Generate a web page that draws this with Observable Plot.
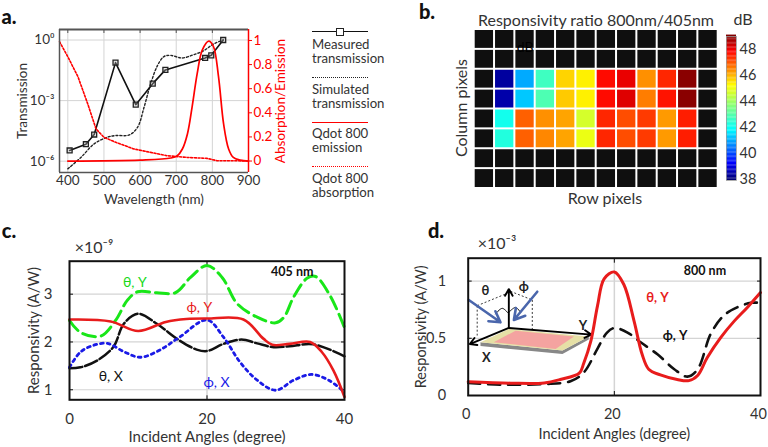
<!DOCTYPE html>
<html><head><meta charset="utf-8">
<script src="https://cdn.jsdelivr.net/npm/d3@7"></script>
<script src="https://cdn.jsdelivr.net/npm/@observablehq/plot@0.6"></script>
<style>
html,body{margin:0;padding:0;background:#fff;}
#page{position:relative;width:768px;height:447px;overflow:hidden;font-family:Lato,"Open Sans",sans-serif;color:#333;}
#page svg{position:absolute;left:0;top:0;}
.t{position:absolute;white-space:nowrap;line-height:1;transform:translate(-50%,-50%);}
.l{position:absolute;white-space:pre;line-height:14px;font-size:13.2px;}
.k{position:absolute;left:312px;width:56px;height:0;}
</style></head><body><div id="page"></div>
<script>
// ---------- Panel a ----------
const measured = [[405,-5.47],[450,-5.16],[473,-4.68],[532,-1.12],[588,-3.2],[635,-2.16],[670,-1.48],[780,-0.89],[797,-0.76],[830,0]];
const simulated = [[400,-6.38],[437,-5.8],[473,-5.14],[510,-4.81],[533,-4.73],[570,-4.7],[593,-4.32],[611,-3.33],[629,-2.18],[648,-1.27],[666,-0.82],[684,-0.76],[716,-0.89],[748,-0.73],[776,-0.53],[803,-0.2],[830,0]];
const emission = [[400,0],[600,0.008],[685,0.025],[703,0.044],[717,0.1],[731,0.225],[744,0.45],[758,0.725],[772,0.92],[790,0.995],[803,0.95],[817,0.7],[831,0.31],[845,0.1],[858,0.03],[877,0.008],[900,0]];
const absorption = [[377,0.99],[400,0.865],[428,0.7],[455,0.475],[478,0.267],[500,0.197],[533,0.155],[583,0.1],[629,0.072],[675,0.044],[730,0.03],[785,0.022],[813,0.003],[858,0.003],[900,0]];
const wavelengthTicks = [400,500,600,700,800,900];
const transmissionTicks = [1,1e-3,1e-6];
const transmissionLabels = {"1":"10⁰","0.001":"10⁻³","0.000001":"10⁻⁶"};
const ratioTicks = [0,0.2,0.4,0.6,0.8,1];

// ---------- Panel b ----------
const ratioRow3 = [null,38.3,40.9,42.6,45.6,45.3,47.7,48.0,46.3,47.4,48.9,null];
const ratioRow4 = [null,38.4,41.2,42.8,45.7,45.3,47.7,48.1,46.5,47.6,48.9,null];
const ratioRow5 = [null,42.0,46.8,46.3,46.1,44.6,47.4,47.0,47.2,46.2,47.5,null];
const ratioRow6 = [null,42.2,46.8,46.4,46.1,44.9,47.4,47.0,47.2,46.2,47.5,null];
const blankRow = Array(12).fill(null);
const ratioRows = [blankRow,blankRow,ratioRow3,ratioRow4,ratioRow5,ratioRow6,blankRow,blankRow];
const dbTicks = [38,40,42,44,46,48];
const jetStops = [38,39.2,41.75,43.5,45.15,47.8,49];
const jetColors = ["#00007f","#0000ff","#00ffff","#80ff80","#ffff00","#ff0000","#7f0000"];

// ---------- Panel c ----------
const thetaY405 = [[0,2.45],[1.6,2.2],[4.5,2.12],[6.7,2.45],[8.4,2.87],[9.9,3.05],[12.7,3.03],[15.4,3.03],[17.6,3.35],[20,3.6],[22.2,3.35],[24.4,2.8],[27.3,2.52],[30,2.4],[31.2,2.52],[32.6,2.94],[34.6,3.34],[35.8,3.37],[37.9,2.97],[40,2.3]];
const phiY405 = [[0,2.47],[6,2.43],[10,2.23],[14,2.42],[17,2.48],[20,2.49],[25.3,2.47],[28.2,2.07],[29.5,1.94],[32,1.96],[35,2.0],[36.7,1.79],[38.4,1.4],[40,0.85]];
const thetaX405 = [[0,1.45],[1.6,1.47],[4,1.61],[6.4,1.9],[7.9,2.38],[10,2.59],[12.7,2.38],[16,2.03],[18.5,1.84],[20,1.81],[22.4,1.96],[25,2.05],[27.3,1.97],[29.7,1.89],[32,1.91],[35.5,1.95],[40,1.7]];
const phiX405 = [[0,1.47],[1.6,1.79],[3.5,1.93],[5.5,1.97],[8,1.79],[10.3,1.68],[13,1.82],[16,2.1],[20,2.46],[22.4,2.1],[24.8,1.58],[27.3,1.2],[30,0.99],[32.6,1.2],[35.2,1.32],[37.7,1.2],[40,0.95]];

// ---------- Panel d ----------
const thetaY800 = [[0,0.12],[5.8,0.108],[10.4,0.11],[12.6,0.14],[15.2,0.195],[15.8,0.28],[16.8,0.48],[17.7,0.785],[18.6,1.02],[20,1.08],[21.3,0.97],[22.7,0.65],[23.8,0.36],[24.7,0.23],[26.3,0.18],[28.6,0.14],[30.2,0.13],[31.4,0.175],[32.7,0.33],[34.6,0.51],[36.4,0.65],[38.2,0.77],[40,0.9]];
const phiY800 = [[0,0.11],[4.4,0.095],[10.4,0.1],[14,0.125],[15.8,0.2],[17.7,0.41],[19,0.55],[20,0.59],[21.8,0.55],[23.6,0.465],[25.9,0.36],[28.2,0.23],[30,0.165],[31.4,0.23],[33.2,0.54],[35,0.7],[36.8,0.77],[38.7,0.81],[40,0.81]];
const angleTicks = [0,20,40];
const resp405Ticks = [1,2,3];
const resp800Ticks = [0,0.5,1];

// Inset schematic of panel d, in the panel's own angle / responsivity units
const insetPlate = [[5.56,0.582],[16.5,0.515],[12.9,0.393],[1.68,0.465]];
const insetPink = [[6.48,0.567],[14.47,0.515],[11.96,0.407],[3.5,0.465]];
const insetEdge = [[1.68,0.465],[12.9,0.393],[16.5,0.515],[16.5,0.49],[12.9,0.362],[1.68,0.432]];
const insetAxes = [[5.56,0.59,0.22,0.45],[5.56,0.59,16.85,0.532],[5.56,0.59,5.56,0.93]];
const insetBeams = [[0.08,0.835,4.42,0.64],[9.45,0.907,6.25,0.66]];
const insetDashes = [[1.23,0.785,1.23,0.524],[1.23,0.785,5.34,0.893],[5.8,0.91,8.77,0.835],[8.77,0.835,8.77,0.573]];
const insetArcLeft = [[3.74,0.713],[4.66,0.762],[5.56,0.713]];
const insetArcRight = [[5.56,0.727],[6.48,0.77],[7.16,0.727]];
const insetLabels = [["θ",2.37,0.916],["ϕ",7.6,0.954],["Y",15.7,0.611],["X",2.5,0.33]];

// ---------- helpers ----------
const page = document.getElementById("page");
const FONT = 'Lato,"Open Sans",sans-serif';
const INK = "#333";
const GRID = "#d4d4d4";
const style = {background:"transparent",fontFamily:FONT,fontSize:"14px",color:INK,overflow:"visible"};
function add(node,left,top){node.style.left=left+"px";node.style.top=top+"px";page.appendChild(node);}
function text(s,x,y,css={}){const d=document.createElement("div");d.className="t";d.textContent=s;d.style.left=x+"px";d.style.top=y+"px";Object.assign(d.style,css);page.appendChild(d);return d;}
const X=d=>d[0], Y=d=>d[1];
const innerTicks = (xTicks,yTicks)=>[
  Plot.axisX(xTicks,{anchor:"top",label:null,tickFormat:()=>"",tickSize:-4,stroke:"#111"}),
  Plot.axisX(xTicks,{anchor:"bottom",label:null,tickFormat:()=>"",tickSize:-4,stroke:"#111"}),
  Plot.axisY(yTicks,{anchor:"left",label:null,tickFormat:()=>"",tickSize:-4,stroke:"#111"}),
  Plot.axisY(yTicks,{anchor:"right",label:null,tickFormat:()=>"",tickSize:-4,stroke:"#111"})
];

text("a.",9,16,{fontWeight:"900",fontSize:"20px",color:"#111"});
text("b.",427,11,{fontWeight:"900",fontSize:"20px",color:"#111"});
text("c.",9,230,{fontWeight:"900",fontSize:"20px",color:"#111"});
text("d.",436,230,{fontWeight:"900",fontSize:"20px",color:"#111"});

// ---------- a: black, log axis ----------
const aFrame = {width:300,height:200,marginLeft:59,marginRight:52,marginTop:29,marginBottom:28,style};
const aX = {domain:[377,900]};
add(Plot.plot({...aFrame,x:aX,y:{type:"log",domain:[Math.pow(10,-6.56),Math.pow(10,0.52)]},marks:[
  Plot.gridX(wavelengthTicks,{stroke:GRID,strokeOpacity:1}),
  Plot.gridY(transmissionTicks,{stroke:GRID,strokeOpacity:1}),
  Plot.axisX(wavelengthTicks,{label:"Wavelength (nm)",labelAnchor:"center",labelArrow:"none",labelOffset:31,tickSize:0,tickPadding:3,fontSize:13.5,fill:INK}),
  Plot.axisX(wavelengthTicks,{anchor:"top",label:null,tickFormat:()=>"",tickSize:-3,stroke:"#555"}),
  Plot.axisY(transmissionTicks,{label:"Transmission",labelAnchor:"center",labelArrow:"none",labelOffset:42,tickSize:0,tickPadding:5,tickFormat:d=>transmissionLabels[String(d)],fontSize:13.5,fill:INK}),
  Plot.line(simulated,{x:X,y:d=>Math.pow(10,d[1]),stroke:"#222",strokeWidth:1.4,strokeDasharray:"2,2",curve:"catmull-rom"}),
  Plot.line(measured,{x:X,y:d=>Math.pow(10,d[1]),stroke:"#111",strokeWidth:1.6}),
  Plot.dot(measured,{x:X,y:d=>Math.pow(10,d[1]),symbol:"square",r:2.8,stroke:"#222",strokeWidth:1.3,fill:"#bbb",fillOpacity:0.35})
]}),0,0);

// ---------- a: red, linear axis on the right ----------
add(Plot.plot({...aFrame,x:{...aX,axis:null},y:{domain:[-0.095,1.091]},marks:[
  Plot.axisY(ratioTicks,{anchor:"right",label:"Absorption/Emission",labelAnchor:"center",labelArrow:"none",labelOffset:36,tickSize:3,tickPadding:2,tickFormat:d=>String(d),color:"#f00",stroke:"#f00",fill:"#f00",fontSize:13.5}),
  Plot.line(absorption,{x:X,y:Y,stroke:"#f00",strokeWidth:1.6,strokeDasharray:"2,1.7"}),
  Plot.line(emission,{x:X,y:Y,stroke:"#f00",strokeWidth:1.7,curve:"catmull-rom"}),
  Plot.ruleX([377],{stroke:"#555",strokeWidth:1.5}),
  Plot.ruleY([1.091],{stroke:"#555",strokeWidth:2}),
  Plot.ruleY([-0.095],{stroke:"#555",strokeWidth:1.5}),
  Plot.ruleX([900],{stroke:"#f00",strokeWidth:1.5})
]}),0,0);

// legend a
function key(y,css){const d=document.createElement("div");d.className="k";d.style.top=y+"px";Object.assign(d.style,css);page.appendChild(d);}
key(31,{borderTop:"1.5px solid #111"});
const sq=document.createElement("div");
Object.assign(sq.style,{position:"absolute",left:"336px",top:"28px",width:"6px",height:"6px",border:"1.3px solid #222",background:"#fff"});page.appendChild(sq);
key(77,{borderTop:"1.5px dotted #222"});
key(122,{borderTop:"1.7px solid #f00"});
key(166,{borderTop:"1.7px dotted #f00"});
[["Measured\ntransmission",37],["Simulated\ntransmission",82],["Qdot 800\nemission",126],["Qdot 800\nabsorption",171]].forEach(([s,y])=>{
  const d=document.createElement("div");d.className="l";d.textContent=s;d.style.left="312px";d.style.top=y+"px";page.appendChild(d);
});

// ---------- b ----------
const cells = ratioRows.flatMap((row,r)=>row.map((v,c)=>({r,c,v})));
add(Plot.plot({width:768,height:200,marginLeft:473.7,marginRight:50.3,marginTop:29,marginBottom:12,style,
  x:{type:"band",domain:d3.range(12),padding:0,round:false,axis:null},
  y:{type:"band",domain:d3.range(8),padding:0,round:false,axis:null},
  color:{type:"linear",domain:jetStops,range:jetColors,unknown:"#0f0f0f"},
  marks:[
    Plot.cell(cells,{x:"c",y:"r",fill:"v",inset:1}),
    Plot.text(["dB"],{x:()=>2,y:()=>0,dx:0,dy:8,text:d=>d,fill:"#000",fontSize:14})
  ]}),0,0);
text("Responsivity ratio 800nm/405nm",596,20,{fontSize:13.7});
text("Column pixels",461,108,{fontSize:13.7,transform:"translate(-50%,-50%) rotate(-90deg)"});
text("Row pixels",605,198,{fontSize:13.7});
text("dB",743,19,{fontSize:17});
const barSteps = d3.range(37.9,49,0.1);
add(Plot.plot({width:768,height:200,marginLeft:726,marginRight:32,marginTop:36,marginBottom:20,style,
  x:{axis:null,domain:[0,1]},
  y:{domain:[37.9,49]},
  color:{type:"linear",domain:jetStops,range:jetColors},
  marks:[
    Plot.rectY(barSteps,{x1:0,x2:1,y1:d=>d,y2:d=>d+0.11,fill:d=>d}),
    Plot.frame({stroke:"#999",strokeWidth:0.8}),
    Plot.axisY(dbTicks,{anchor:"right",label:null,tickSize:0,tickPadding:3,fontSize:14.5,fill:INK})
  ]}),0,0);

// ---------- c ----------
add(Plot.plot({width:390,height:447,marginLeft:69,marginRight:46,marginTop:260.7,marginBottom:47.7,style,
  x:{domain:[0,40]},y:{domain:[0.79,3.69]},
  marks:[
    Plot.gridX([20],{stroke:GRID,strokeWidth:1.5,strokeOpacity:1}),
    Plot.gridY(resp405Ticks,{stroke:GRID,strokeWidth:1.2,strokeOpacity:1}),
    Plot.axisX(angleTicks,{label:"Incident Angles (degree)",labelAnchor:"center",labelArrow:"none",labelOffset:42,tickSize:0,tickPadding:14,fontSize:15,fill:INK}),
    Plot.axisY(resp405Ticks,{label:"Responsivity (A/W)",labelAnchor:"center",labelArrow:"none",labelOffset:41,tickSize:0,tickPadding:17,fontSize:15,fill:INK}),
    ...innerTicks([20],resp405Ticks),
    Plot.line(thetaY405,{x:X,y:Y,stroke:"#19e619",strokeWidth:3,strokeDasharray:"13,6",curve:"catmull-rom"}),
    Plot.line(thetaX405,{x:X,y:Y,stroke:"#111",strokeWidth:2.5,strokeDasharray:"13,3",curve:"catmull-rom"}),
    Plot.line(phiX405,{x:X,y:Y,stroke:"#1a1ae6",strokeWidth:2.8,strokeDasharray:"2.8,4",curve:"catmull-rom"}),
    Plot.line(phiY405,{x:X,y:Y,stroke:"#e81c1c",strokeWidth:2.6,curve:"catmull-rom"}),
    Plot.text([["405 nm",32.4,3.46,"#111"]],{x:d=>d[1],y:d=>d[2],text:d=>d[0],fontWeight:"bold",fontSize:12.5,fill:"#111"}),
    Plot.text([["θ, Y",9.5,3.25,"#19d919"]],{x:d=>d[1],y:d=>d[2],text:d=>d[0],fontSize:14,fill:d=>d[3]}),
    Plot.text([["ϕ, Y",18.9,2.72,"#e81c1c"]],{x:d=>d[1],y:d=>d[2],text:d=>d[0],fontSize:14,fill:d=>d[3]}),
    Plot.text([["θ, X",6,1.28,"#111"]],{x:d=>d[1],y:d=>d[2],text:d=>d[0],fontSize:14,fill:d=>d[3]}),
    Plot.text([["ϕ, X",21.4,1.15,"#1a1ae6"]],{x:d=>d[1],y:d=>d[2],text:d=>d[0],fontSize:14,fill:d=>d[3]}),
    Plot.frame({stroke:"#111",strokeWidth:2})
  ]}),0,0);
text("×10⁻⁹",94,247,{fontSize:14});

// ---------- d ----------
const segs = {x1:d=>d[0],y1:d=>d[1],x2:d=>d[2],y2:d=>d[3]};
add(Plot.plot({width:768,height:447,marginLeft:467.7,marginRight:8,marginTop:257.7,marginBottom:52,style,
  x:{domain:[0,40]},y:{domain:[0,1.2]},
  marks:[
    Plot.gridX([20],{stroke:GRID,strokeWidth:1.5,strokeOpacity:1}),
    Plot.gridY(resp800Ticks,{stroke:GRID,strokeWidth:1.2,strokeOpacity:1}),
    Plot.axisX(angleTicks,{label:"Incident Angles (degree)",labelAnchor:"center",labelArrow:"none",labelOffset:43,tickSize:0,tickPadding:13,dx:-2,fontSize:14.5,fill:INK}),
    Plot.axisY(resp800Ticks,{label:"Responsivity (A/W)",labelAnchor:"center",labelArrow:"none",labelOffset:52,tickSize:0,tickPadding:22,tickFormat:d=>String(d),fontSize:14.5,fill:INK}),
    ...innerTicks([20],resp800Ticks),
    Plot.line(phiY800,{x:X,y:Y,stroke:"#111",strokeWidth:2.6,strokeDasharray:"12,8",curve:"catmull-rom"}),
    Plot.line(insetEdge.concat([insetEdge[0]]),{x:X,y:Y,fill:"#888",stroke:"none"}),
    Plot.line(insetPlate.concat([insetPlate[0]]),{x:X,y:Y,fill:"#e6e0a6",stroke:"none"}),
    Plot.line(insetPink.concat([insetPink[0]]),{x:X,y:Y,fill:"#f4a3a0",stroke:"none"}),
    Plot.link(insetDashes,{...segs,stroke:"#222",strokeWidth:0.9,strokeDasharray:"2,2"}),
    Plot.line(insetArcLeft,{x:X,y:Y,stroke:"#111",strokeWidth:1,curve:"catmull-rom"}),
    Plot.line(insetArcRight,{x:X,y:Y,stroke:"#111",strokeWidth:1,curve:"catmull-rom"}),
    Plot.arrow(insetAxes,{...segs,stroke:"#000",strokeWidth:1.9,headLength:6}),
    Plot.arrow(insetBeams,{...segs,stroke:"#4a66ac",strokeWidth:2.6,headLength:7}),
    Plot.text(insetLabels,{x:d=>d[1],y:d=>d[2],text:d=>d[0],fontSize:13,fontWeight:"bold",fill:"#222"}),
    Plot.line(thetaY800,{x:X,y:Y,stroke:"#e81c1c",strokeWidth:3,curve:"catmull-rom"}),
    Plot.text([["800 nm",32.4,1.09]],{x:d=>d[1],y:d=>d[2],text:d=>d[0],fontWeight:"bold",fontSize:12.5,fill:"#111"}),
    Plot.text([["θ, Y",25.9,0.858]],{x:d=>d[1],y:d=>d[2],text:d=>d[0],fontWeight:"bold",fontSize:13,fill:"#e81c1c"}),
    Plot.text([["ϕ, Y",28.3,0.524]],{x:d=>d[1],y:d=>d[2],text:d=>d[0],fontWeight:"bold",fontSize:13,fill:"#111"}),
    Plot.frame({stroke:"#111",strokeWidth:2})
  ]}),0,0);
text("×10⁻³",497,243,{fontSize:14});
</script></body></html>
